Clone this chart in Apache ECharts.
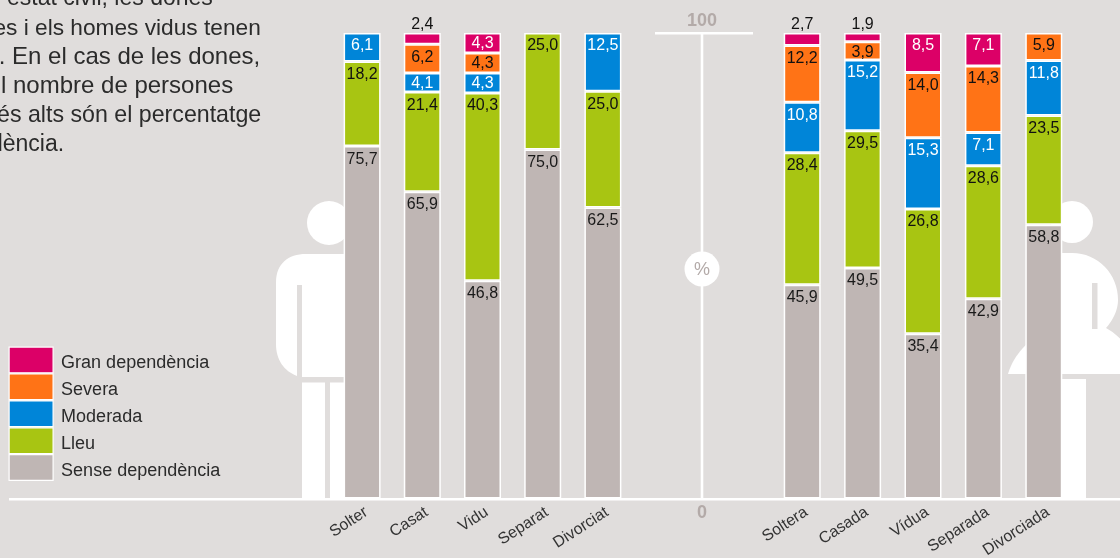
<!DOCTYPE html>
<html><head><meta charset="utf-8">
<style>html,body{margin:0;padding:0;background:#e0dddc}#c{width:1120px;height:558px}</style>
<script src="https://cdn.jsdelivr.net/npm/echarts@6/dist/echarts.min.js"></script>
</head><body><div id="c"></div>
<script>
const catHomes = ['Solter','Casat','Vidu','Separat','Divorciat'];
const catDones = ['Soltera','Casada','Vídua','Separada','Divorciada'];
const levels = ['Sense dependència','Lleu','Moderada','Severa','Gran dependència'];
const homesSense = [75.7,65.9,46.8,75.0,62.5];
const homesLleu = [18.2,21.4,40.3,25.0,25.0];
const homesModerada = [6.1,4.1,4.3,null,12.5];
const homesSevera = [null,6.2,4.3,null,null];
const homesGran = [null,2.4,4.3,null,null];
const donesSense = [45.9,49.5,35.4,42.9,58.8];
const donesLleu = [28.4,29.5,26.8,28.6,23.5];
const donesModerada = [10.8,15.2,15.3,7.1,11.8];
const donesSevera = [12.2,3.9,14.0,14.3,5.9];
const donesGran = [2.7,1.9,8.5,7.1,null];
const colors = ['#bfb6b4','#a8c512','#0085d8','#ff7316','#dc0067'];
const labelColors = ['#1a1a1a','#111','#fff','#111','#fff'];
const legendOrder = ['Gran dependència','Severa','Moderada','Lleu','Sense dependència'];
const axisTicks = ['0','100'];
const unit = '%';
const paragraph = [
  ['estat civil, les dones',7,7,23],
  ['es i els homes vidus tenen',-6.6,36.5,22.7],
  ['. En el cas de les dones,',-1.3,65.5,24],
  ['l nombre de persones',1,94.5,24],
  ['és alts són el percentatge',-3,124,23.2],
  ['dència.',-10,152.5,23]
];
const SANS = '"Liberation Sans",sans-serif';
const fmt = v => v.toFixed(1).replace('.',',');

function mk(values, li, axis, stack){
  return {
    type:'bar', name:levels[li], stack, xAxisIndex:axis, yAxisIndex:axis, barWidth:37,
    itemStyle:{color:colors[li],borderColor:'#fff',borderWidth:1.5},
    label:{show:false},
    emphasis:{disabled:true},
    data:values.map(v=>{
      if(v===null) return {value:null};
      const small = v<3;
      return {value:v,label:{show:true,
        position: small?'top':'insideTop',
        distance: small?0:(v<5?2.5:5),
        color: small?'#111':labelColors[li],
        fontFamily:SANS,fontSize:16,
        formatter:()=>fmt(v)}};
    })
  };
}
const homes=[homesSense,homesLleu,homesModerada,homesSevera,homesGran];
const dones=[donesSense,donesLleu,donesModerada,donesSevera,donesGran];
const series=[];
homes.forEach((a,i)=>series.push(mk(a,i,0,'h')));
dones.forEach((a,i)=>series.push(mk(a,i,1,'d')));

// outline helper for the decorative silhouettes: straight points and cubic curves
function outline(cmds){
  const pts=[];
  cmds.forEach(c=>{
    if(c.length===2){pts.push(c);return;}
    const p0=pts[pts.length-1];
    for(let k=1;k<=16;k++){
      const t=k/16,u=1-t;
      pts.push([
        u*u*u*p0[0]+3*u*u*t*c[0]+3*u*t*t*c[2]+t*t*t*c[4],
        u*u*u*p0[1]+3*u*u*t*c[1]+3*u*t*t*c[3]+t*t*t*c[5]
      ]);
    }
  });
  return pts;
}
const white={fill:'#fff'};
const grey='#b3aaa8';
const bg='#e0dddc';
const graphic=[
  // man silhouette
  {type:'circle',z:-1,shape:{cx:329,cy:223,r:22},style:white},
  {type:'polygon',z:-1,shape:{points:outline([[297,376],[284,371,276,360,276,344],[276,282],[276,264,288,254,306,254],[348,254],[348,377],[302,377],[302,285],[297,285]])},style:white},
  {type:'rect',z:-1,shape:{x:302,y:382.5,width:23,height:116},style:white},
  {type:'rect',z:-1,shape:{x:330,y:382.5,width:18,height:116},style:white},
  // woman silhouette
  {type:'circle',z:-1,shape:{cx:1072,cy:222,r:21},style:white},
  {type:'polygon',z:-1,shape:{points:outline([[1050,374],[1050,253],[1072,253],[1098,253,1118,274,1118,300],[1118,310,1113,320,1106,328],[1124,338,1136,356,1140,374]])},style:white},
  {type:'polygon',z:-1,shape:{points:outline([[1008,374],[1012,360,1022,346,1036,337],[1050,374]])},style:white},
  {type:'rect',z:-1,shape:{x:1092,y:283,width:5.5,height:46},style:{fill:bg}},
  {type:'rect',z:-1,shape:{x:1050,y:379,width:36,height:120},style:white},
  // central axis
  {type:'rect',z:3,shape:{x:700.7,y:33,width:2.6,height:466},style:white},
  {type:'rect',z:3,shape:{x:655,y:32,width:98,height:2.6},style:white},
  {type:'circle',z:4,shape:{cx:702,cy:269,r:17.5},style:white},
  {type:'text',z:5,style:{text:unit,x:702,y:270,fill:grey,font:'18px '+SANS,textAlign:'center',textVerticalAlign:'middle'}},
  {type:'text',z:5,style:{text:axisTicks[1],x:702,y:21,fill:grey,font:'bold 18px '+SANS,textAlign:'center',textVerticalAlign:'middle'}},
  {type:'text',z:5,style:{text:axisTicks[0],x:702,y:513,fill:grey,font:'bold 18px '+SANS,textAlign:'center',textVerticalAlign:'middle'}},
  // baseline
  {type:'rect',z:6,shape:{x:9,y:498,width:1111,height:2.5},style:white}
];
paragraph.forEach(p=>graphic.push({type:'text',z:5,style:{text:p[0],x:p[1],y:p[2]-8,fill:'#2b2b2b',font:p[3]+'px '+SANS,textAlign:'left',textVerticalAlign:'middle'}}));

const axisLabel={rotate:33,margin:15,interval:0,color:'#333',fontFamily:SANS,fontSize:16,padding:[0,-5,0,0]};
const xBase={type:'category',axisLine:{show:false},axisTick:{show:false},axisLabel};
const yBase={type:'value',min:0,max:100,interval:100,show:false};
echarts.init(document.getElementById('c'),null,{renderer:'canvas'}).setOption({
  animation:false,
  backgroundColor:bg,
  textStyle:{fontFamily:SANS},
  grid:[
    {left:332,width:301,top:33,height:465.5,outerBoundsMode:'none'},
    {left:772,width:302,top:33,height:465.5,outerBoundsMode:'none'}
  ],
  xAxis:[
    Object.assign({gridIndex:0,data:catHomes},xBase),
    Object.assign({gridIndex:1,data:catDones},xBase)
  ],
  yAxis:[Object.assign({gridIndex:0},yBase),Object.assign({gridIndex:1},yBase)],
  legend:{show:true,orient:'vertical',left:8.5,top:346.5,padding:0,icon:'rect',itemWidth:44,itemHeight:25.7,itemGap:0,itemStyle:{borderColor:'#fff',borderWidth:1.2},
    selectedMode:false,data:legendOrder,
    formatter:n=>'{t|'+n+'}',
    textStyle:{color:'#2b2b2b',fontFamily:SANS,fontSize:18,
      rich:{t:{color:'#2b2b2b',fontFamily:SANS,fontSize:18,padding:[6,0,0,3]}}}},
  graphic,
  series
});
</script></body></html>
